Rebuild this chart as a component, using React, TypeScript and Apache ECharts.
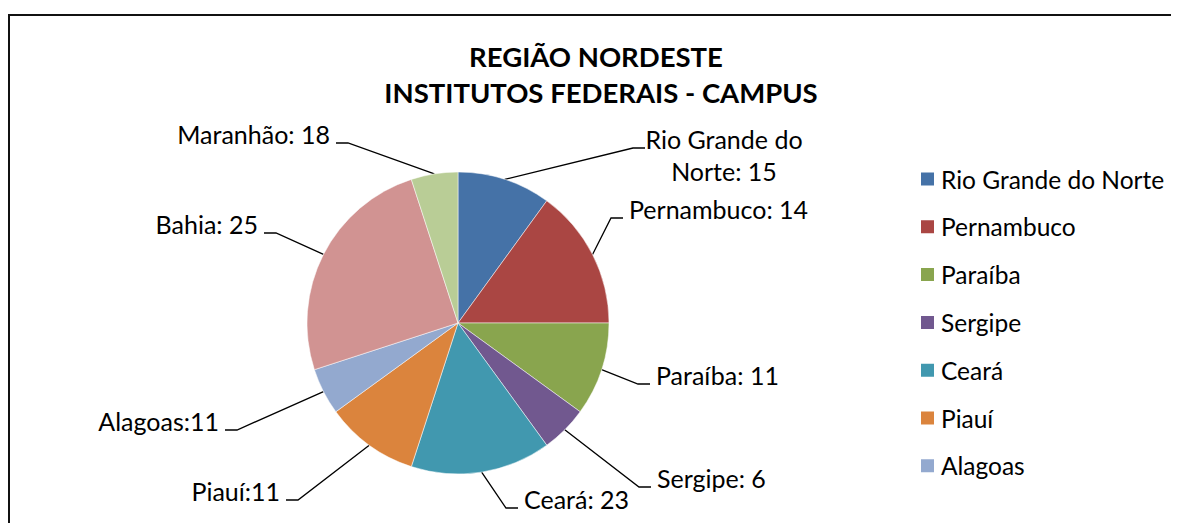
import React, { useEffect, useRef } from "react";
import * as echarts from "echarts";

// ---- data ----
const CATEGORIES = [
  "Rio Grande do Norte",
  "Pernambuco",
  "Paraíba",
  "Sergipe",
  "Ceará",
  "Piauí",
  "Alagoas",
  "Bahia",
  "Maranhão",
];
// slice sizes as drawn in the reference (percent of the pie)
const SLICE_VALUES = [10, 15, 10, 5, 15, 10, 5, 25, 5];
// label texts as typed on the reference chart
const LABEL_TEXTS = [
  "Rio Grande do\nNorte: 15",
  "Pernambuco: 14",
  "Paraíba: 11",
  "Sergipe: 6",
  "Ceará: 23",
  "Piauí:11",
  "Alagoas:11",
  "Bahia: 25",
  "Maranhão: 18",
];
// the legend box of the reference only shows the first seven entries
const LEGEND_ITEMS = CATEGORIES.slice(0, 7);
const TITLE_LINES = ["REGIÃO NORDESTE", "INSTITUTOS FEDERAIS - CAMPUS"];

// ---- styles / layout ----
const COLORS = [
  "#4572A7",
  "#AA4643",
  "#89A54E",
  "#71588F",
  "#4198AF",
  "#DB843D",
  "#93A9CF",
  "#D19392",
  "#B9CD96",
];
const FONT = "Lato, 'Open Sans', sans-serif";
const LABEL_FS = 25;
const LABEL_LH = 32;
const CX = 450;
const CY = 315;
const R = 151;
// text anchor (x = text edge or centre, y = baseline of first line)
const LABEL_LAYOUT: { x: number; y: number; align: string; lx?: number }[] = [
  { x: 716, y: 140, align: "center", lx: 637 },
  { x: 621, y: 210, align: "left" },
  { x: 648, y: 376, align: "left" },
  { x: 649, y: 479, align: "left" },
  { x: 516, y: 500, align: "left" },
  { x: 272, y: 492, align: "right" },
  { x: 211, y: 422, align: "right" },
  { x: 250, y: 225, align: "right" },
  { x: 322, y: 135, align: "right" },
];

export default function App() {
  const ref = useRef<HTMLDivElement>(null);
  useEffect(() => {
    const prevOverflow = document.documentElement.style.overflow;
    document.documentElement.style.overflow = "hidden";
    const chart = echarts.init(ref.current!, null, { renderer: "svg" });
    const total = SLICE_VALUES.reduce((a, b) => a + b, 0);
    const midAngle = (i: number) => {
      let cum = 0;
      for (let j = 0; j < i; j++) cum += SLICE_VALUES[j];
      return ((cum + SLICE_VALUES[i] / 2) / total) * Math.PI * 2;
    };
    chart.setOption({
      animation: false,
      color: COLORS,
      graphic: [
        {
          type: "line",
          silent: true,
          shape: { x1: 1, y1: 7, x2: 1, y2: 600 },
          style: { stroke: "#111", lineWidth: 2 },
        },
        {
          type: "line",
          silent: true,
          shape: { x1: 0, y1: 7, x2: 1300, y2: 7 },
          style: { stroke: "#111", lineWidth: 2 },
        },
        {
          type: "text",
          x: 588,
          y: 48,
          style: {
            text: TITLE_LINES[0],
            fill: "#000",
            font: `bold 27.5px ${FONT}`,
            align: "center",
            verticalAlign: "middle",
          },
        },
        {
          type: "text",
          x: 593,
          y: 84,
          style: {
            text: TITLE_LINES[1],
            fill: "#000",
            font: `bold 27.5px ${FONT}`,
            align: "center",
            verticalAlign: "middle",
          },
        },
      ],
      legend: {
        orient: "vertical",
        left: 911,
        top: 156,
        padding: 0,
        data: LEGEND_ITEMS,
        icon: "rect",
        itemWidth: 15,
        itemHeight: 15,
        itemGap: 17.8,
        selectedMode: false,
        textStyle: {
          fontFamily: FONT,
          fontSize: 24.5,
          lineHeight: 30,
          color: "#000",
          padding: [0, 0, 0, 1],
        },
      },
      series: [
        {
          type: "pie",
          center: [CX, CY],
          radius: R,
          startAngle: 90,
          clockwise: true,
          avoidLabelOverlap: false,
          silent: true,
          data: CATEGORIES.map((name, i) => ({ name, value: SLICE_VALUES[i] })),
          itemStyle: { borderColor: "#ffffff", borderWidth: 0.5 },
          label: {
            show: true,
            position: "outside",
            formatter: (p: any) => LABEL_TEXTS[p.dataIndex],
            fontFamily: FONT,
            fontSize: LABEL_FS,
            lineHeight: LABEL_LH,
            color: "#000",
          },
          labelLine: {
            show: true,
            smooth: false,
            length: 10,
            length2: 10,
            lineStyle: { color: "#000", width: 1.3 },
          },
          labelLayout: (params: any) => {
            const i = params.dataIndex;
            const L = LABEL_LAYOUT[i];
            const sgn = L.align === "right" ? -1 : 1;
            const endX = L.lx != null ? L.lx : L.x - sgn * 6;
            const elbowX = endX - sgn * 12;
            const a = midAngle(i);
            const p0 = [CX + R * Math.sin(a), CY - R * Math.cos(a)];
            const lines = LABEL_TEXTS[i].split("\n").length;
            const yMid = L.y - 0.37 * LABEL_FS + ((lines - 1) * LABEL_LH) / 2;
            return {
              x: L.x,
              y: yMid,
              align: L.align,
              verticalAlign: "middle",
              labelLinePoints: [p0, [elbowX, L.y], [endX, L.y]],
            };
          },
        },
      ],
    });
    return () => {
      chart.dispose();
      document.documentElement.style.overflow = prevOverflow;
    };
  }, []);
  return <div ref={ref} style={{ width: 1171, height: 515 }} />;
}
